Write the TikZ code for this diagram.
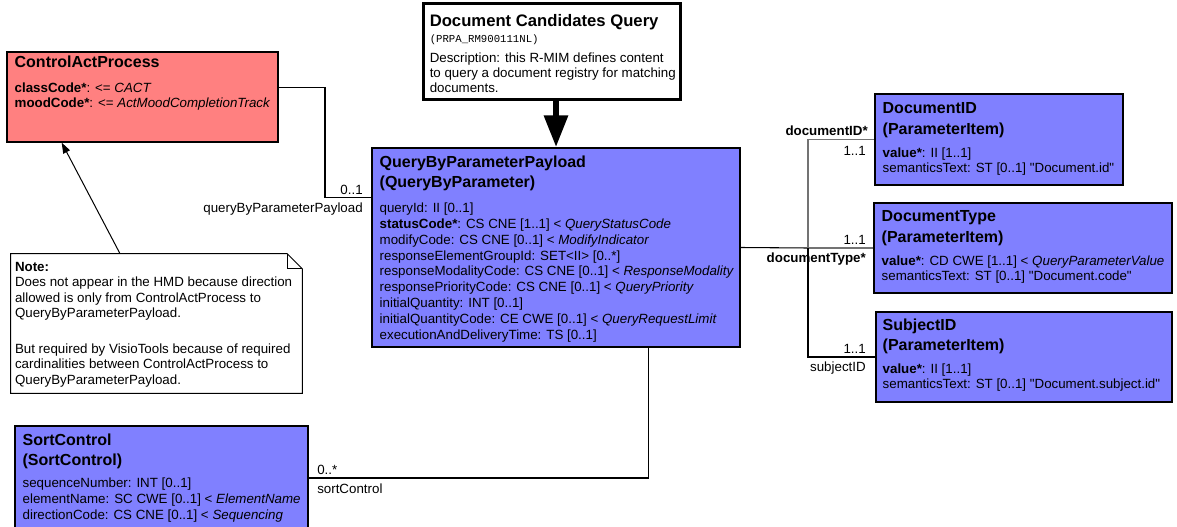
\documentclass[tikz,border=0pt]{standalone}
\usepackage{fontspec}
\setmainfont{Liberation Sans}
\setmonofont{Liberation Mono}
\usetikzlibrary{arrows.meta,positioning,calc}
\definecolor{clsblue}{RGB}{128,128,255}
\definecolor{actred}{RGB}{255,128,128}

\begin{document}
\begin{tikzpicture}[x=0.75pt,y=-0.75pt]
\tikzset{clsbox/.style = {draw=black, line width=0.9pt, fill=clsblue, inner sep=0pt}}
\tikzset{clstitle/.style = {anchor=north west, align=left, inner sep=0pt, font=\bfseries\fontsize{12}{15.5}\selectfont}}
\tikzset{attrs/.style = {align=left, inner sep=0pt, font=\fontsize{10}{11.6}\selectfont}}
\tikzset{lbl/.style = {inner sep=0pt, font=\fontsize{10}{11}\selectfont}}
\tikzset{link/.style = {draw=black, line width=0.8pt}}
\useasboundingbox (0,0) rectangle (1177,527);

% query header
\node[draw=black, line width=2.25pt, fill=white, minimum width=192.75pt, minimum height=72pt, inner sep=0pt] (dcq) at (551.5,52) {};
\node[clstitle, font=\bfseries\fontsize{12.5}{15}\selectfont] (dcqtitle) at ([shift={(8,12)}]dcq.north west) {Document Candidates Query};
\node[anchor=north west, inner sep=0pt, font=\ttfamily\fontsize{8}{9}\selectfont, below right=3pt and 0pt of dcqtitle.south west] (dcqcode) {(PRPA\_RM900111NL)};
\node[attrs, font=\fontsize{10}{11.2}\selectfont, below right=6pt and 0pt of dcqcode.south west] (dcqdesc) {Description: this R-MIM defines content\\to query a document registry for matching\\documents.};

% control act
\node[clsbox, fill=actred, minimum width=203.25pt, minimum height=67.5pt] (cap) at (142.5,97) {};
\node[clstitle] (captitle) at ([shift={(8,4)}]cap.north west) {ControlActProcess};
\node[attrs, below right=11pt and 0pt of captitle.south west] (capattrs) {\textbf{classCode*}: <= \textit{CACT}\\\textbf{moodCode*}: <= \textit{ActMoodCompletionTrack}};

% payload
\node[clsbox, minimum width=276pt, minimum height=149.25pt] (qbp) at (556,247.5) {};
\node[clstitle] (qbptitle) at ([shift={(8,8)}]qbp.north west) {QueryByParameterPayload\\(QueryByParameter)};
\node[attrs, font=\fontsize{10}{11.85}\selectfont, below right=8.5pt and 0pt of qbptitle.south west] (qbpattrs) {queryId: II [0..1]\\
\textbf{statusCode*}: CS CNE [1..1] < \textit{QueryStatusCode}\\
modifyCode: CS CNE [0..1] < \textit{ModifyIndicator}\\
responseElementGroupId: SET<II> [0..*]\\
responseModalityCode: CS CNE [0..1] < \textit{ResponseModality}\\
responsePriorityCode: CS CNE [0..1] < \textit{QueryPriority}\\
initialQuantity: INT [0..1]\\
initialQuantityCode: CE CWE [0..1] < \textit{QueryRequestLimit}\\
executionAndDeliveryTime: TS [0..1]};

% parameter items
\node[clsbox, minimum width=186pt, minimum height=68.25pt] (docid) at (999,139.5) {};
\node[clstitle] (docidtitle) at ([shift={(8,9)}]docid.north west) {DocumentID\\(ParameterItem)};
\node[attrs, below right=7pt and 0pt of docidtitle.south west] (docidattrs) {\textbf{value*}: II [1..1]\\semanticsText: ST [0..1] \textquotedbl Document.id\textquotedbl};

\node[clsbox, minimum width=223.5pt, minimum height=67.5pt] (doctype) at (1023,248) {};
\node[clstitle] (doctypetitle) at ([shift={(8,8)}]doctype.north west) {DocumentType\\(ParameterItem)};
\node[attrs, below right=7pt and 0pt of doctypetitle.south west] (doctypeattrs) {\textbf{value*}: CD CWE [1..1] < \textit{QueryParameterValue}\\semanticsText: ST [0..1] \textquotedbl Document.code\textquotedbl};

\node[clsbox, minimum width=222pt, minimum height=67.5pt] (subj) at (1024,357) {};
\node[clstitle] (subjtitle) at ([shift={(7,7)}]subj.north west) {SubjectID\\(ParameterItem)};
\node[attrs, below right=6.5pt and 0pt of subjtitle.south west] (subjattrs) {\textbf{value*}: II [1..1]\\semanticsText: ST [0..1] \textquotedbl Document.subject.id\textquotedbl};

% sort control
\node[clsbox, minimum width=219.75pt, minimum height=78pt] (sort) at (161.5,478) {};
\node[clstitle] (sorttitle) at ([shift={(8,8)}]sort.north west) {SortControl\\(SortControl)};
\node[attrs, font=\fontsize{10}{11.9}\selectfont, below right=6pt and 0pt of sorttitle.south west] (sortattrs) {sequenceNumber: INT [0..1]\\elementName: SC CWE [0..1] < \textit{ElementName}\\directionCode: CS CNE [0..1] < \textit{Sequencing}};

% note
\node[minimum width=218.25pt, minimum height=104.25pt, inner sep=0pt] (note) at (156.5,323.5) {};
\draw[line width=0.75pt, fill=white] (note.south west) -- (note.north west) -- ([xshift=-11.25pt]note.north east) -- ([yshift=-11.25pt]note.north east) -- (note.south east) -- cycle;
\draw[line width=0.75pt] ([xshift=-11.25pt]note.north east) |- ([yshift=-11.25pt]note.north east);
\node[attrs, font=\fontsize{10}{11.7}\selectfont, anchor=north west] (notetext) at ([shift={(4,8)}]note.north west) {\textbf{Note:}\\Does not appear in the HMD because direction\\allowed is only from ControlActProcess to\\QueryByParameterPayload.\\[14.6pt]But required by VisioTools because of required\\cardinalities between ControlActProcess to\\QueryByParameterPayload.};

% connectors
\draw[line width=5pt, -{Triangle[width=17pt,length=24pt]}] (qbp.north |- dcq.south) -- (qbp.north);
\draw[line width=0.75pt, -{Triangle[width=5.5pt,length=8pt]}] ($(note.north west)!0.375!(note.north east)$) -- ($(cap.south west)!0.203!(cap.south east)$);

\coordinate (capout) at ($(cap.north east)!0.4!(cap.south east)$);
\coordinate (qbpin) at ($(qbp.north west)!0.25!(qbp.south west)$);
\coordinate (capbend) at (325,0);
\draw[link] (capout) -| (capbend |- qbpin) -- (qbpin);
\node[lbl, anchor=east] (capmult) at (363,190) {0..1};
\node[lbl, anchor=east] (caprole) at (363,209) {queryByParameterPayload};

\coordinate (trunk) at (808,248);
\draw[link] (qbp.east) -- (trunk);
\draw[link, black!55] (trunk) -- (doctype.west);
\draw[link, black!55] (trunk) |- (docid.west);
\draw[link] (trunk) |- (subj.west);
\node[lbl, anchor=east, font=\bfseries\fontsize{10}{11}\selectfont] (docidrole) at (868,131) {documentID*};
\node[lbl, anchor=east] (docidmult) at (866,151) {1..1};
\node[lbl, anchor=east] (doctypemult) at (866,240) {1..1};
\node[lbl, anchor=east, font=\bfseries\fontsize{10}{11}\selectfont] (doctyperole) at (866,259) {documentType*};
\node[lbl, anchor=east] (subjmult) at (866,349) {1..1};
\node[lbl, anchor=east] (subjrole) at (866,368) {subjectID};

\coordinate (qbpout) at ($(qbp.south west)!0.75!(qbp.south east)$);
\draw[link] (qbpout) |- (sort.east);
\node[lbl, anchor=west] (sortmult) at (317,470) {0..*};
\node[lbl, anchor=west] (sortrole) at (317,489) {sortControl};
\end{tikzpicture}
\end{document}
